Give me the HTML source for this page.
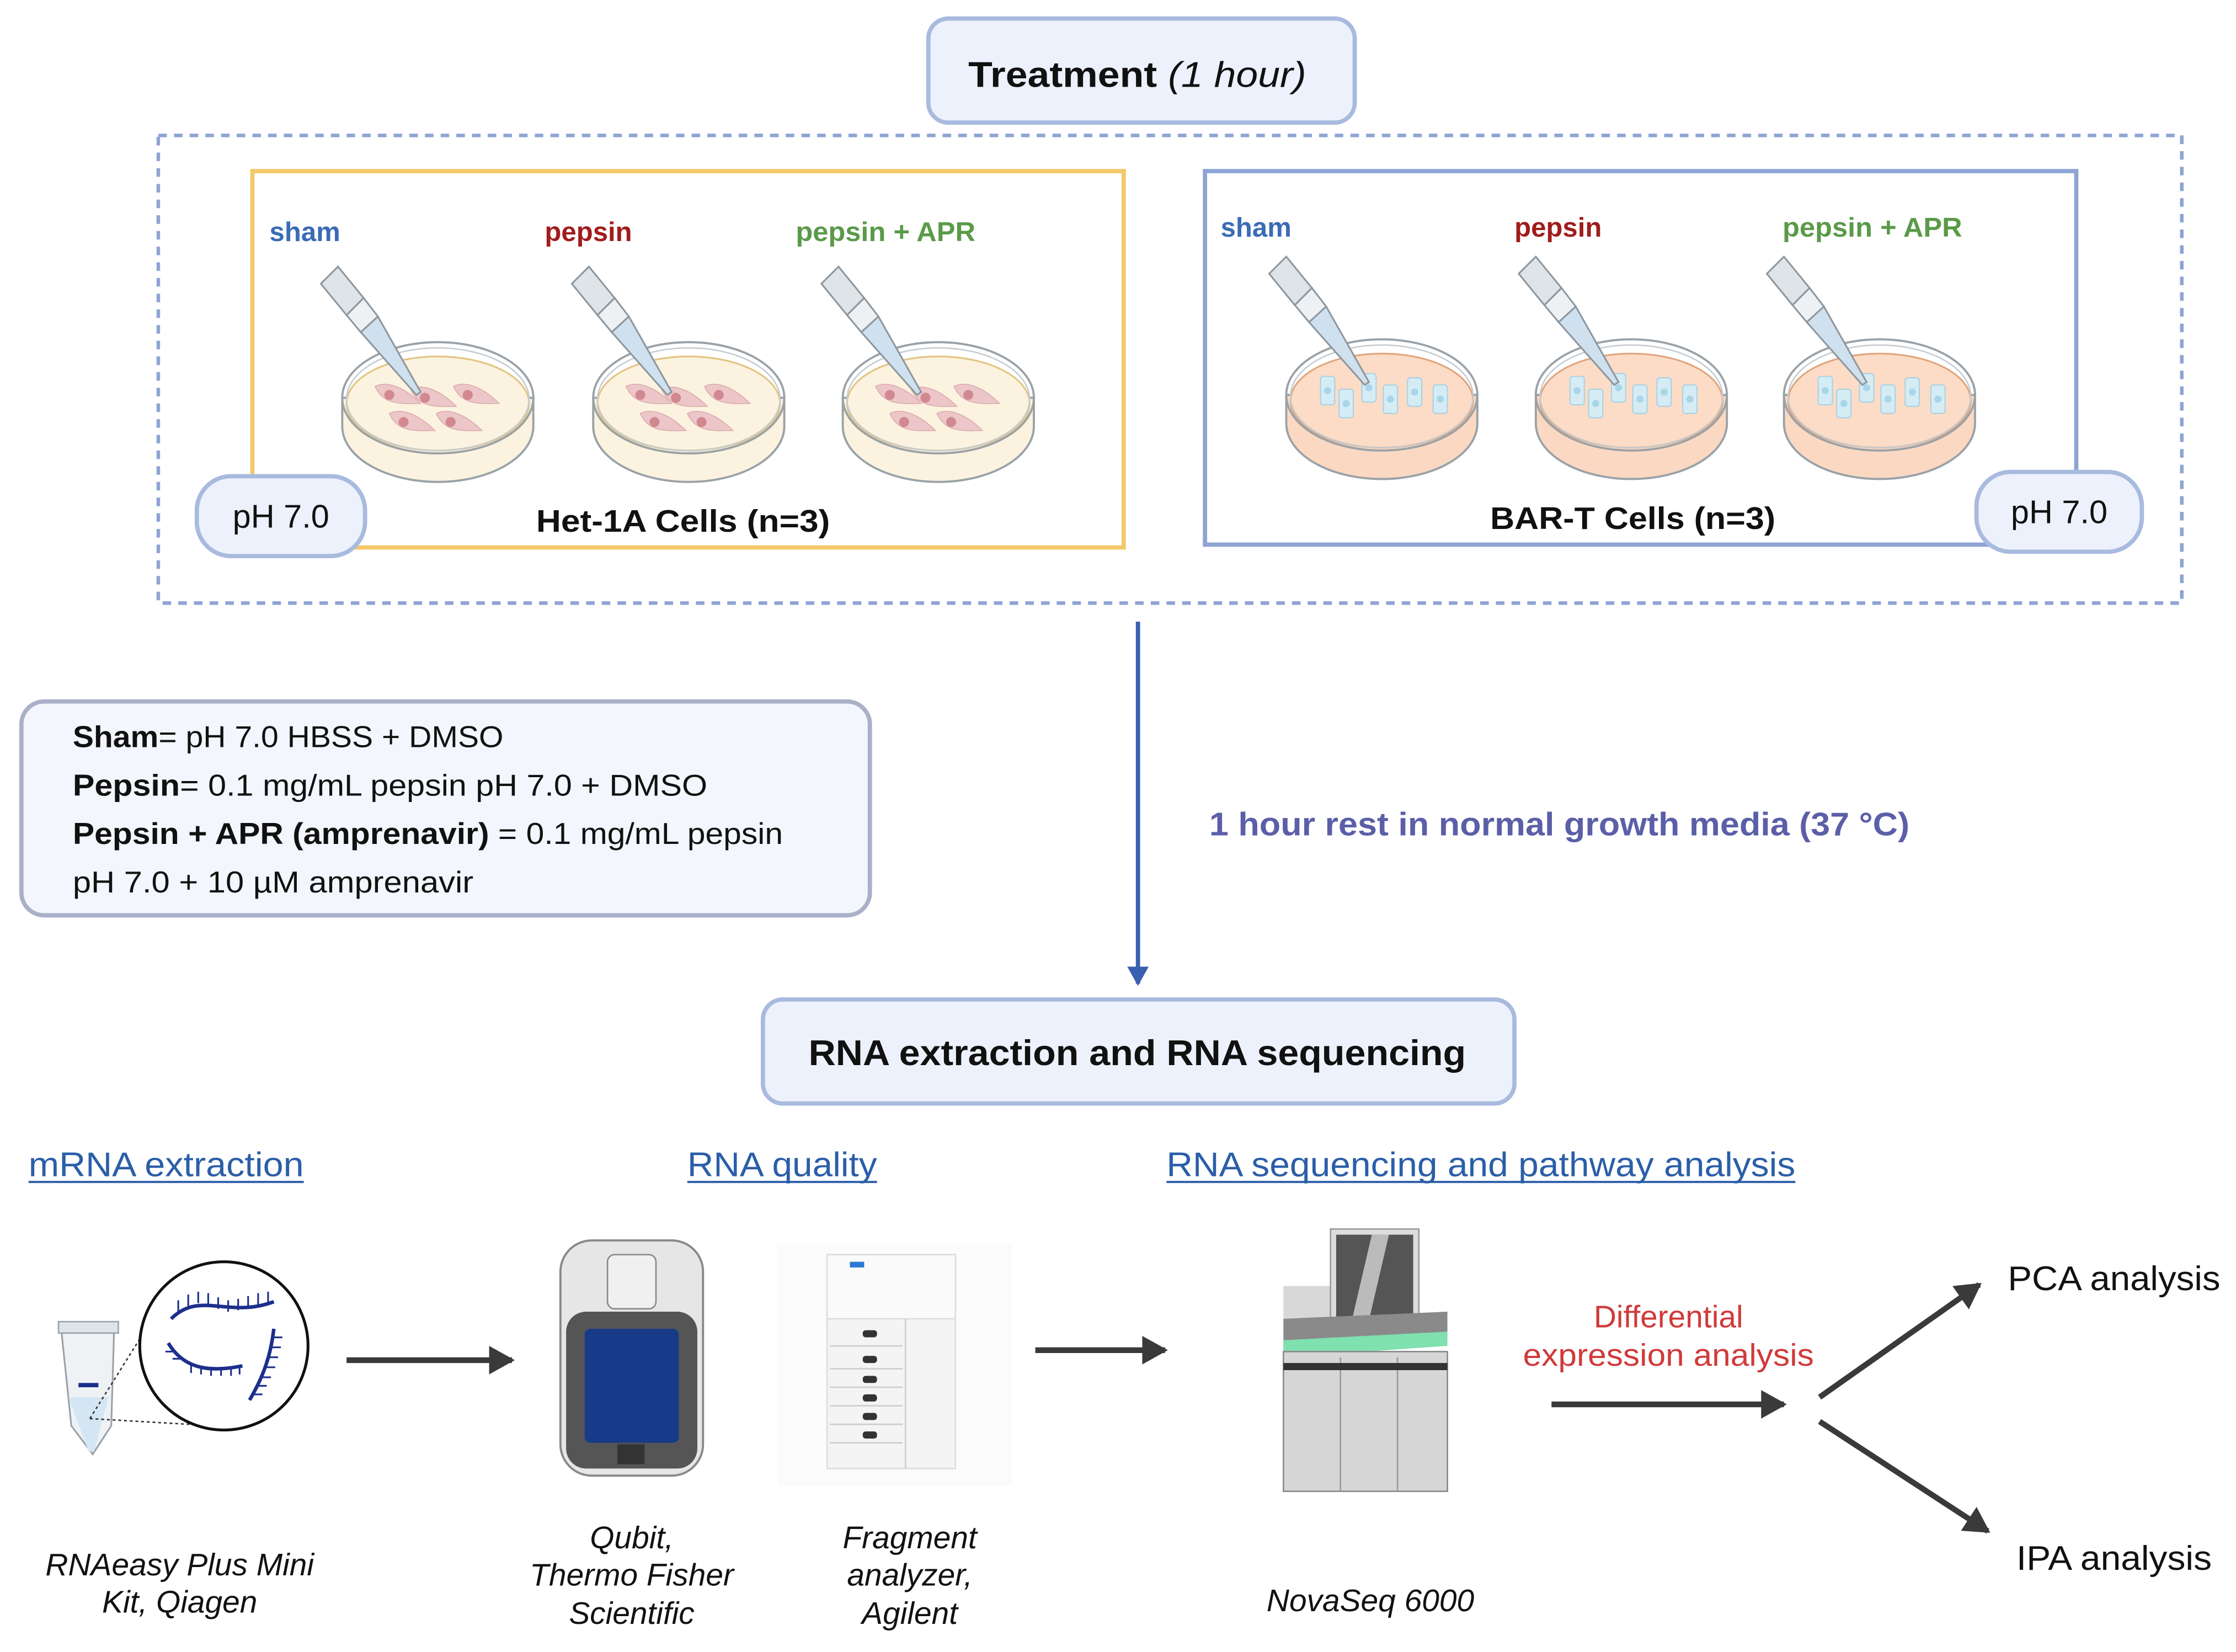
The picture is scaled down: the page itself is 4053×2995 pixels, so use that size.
<!DOCTYPE html>
<html><head><meta charset="utf-8"><style>
html,body{margin:0;padding:0;background:#fff}
svg{display:block}
text{font-family:"Liberation Sans",sans-serif}
</style></head><body>
<svg width="4053" height="2995" viewBox="0 0 1568 1158.7" xmlns="http://www.w3.org/2000/svg">
<defs>
<g id="pip">
  <polygon points="-70,-78 -58,-90 -40,-68 -52,-56" fill="#dfe4e8" stroke="#8e979e" stroke-width="1.2"/>
  <polygon points="-52,-56 -40,-68 -30,-55 -42,-44" fill="#eef1f3" stroke="#8e979e" stroke-width="1.2"/>
  <polygon points="-42,-44 -30,-55 0,-2 -3,0" fill="#cfe0ef" stroke="#8e979e" stroke-width="1.2"/>
</g>
<g id="dishY">
  <path d="M-67,0 L-67,20 A67,39 0 0 0 67,20 L67,0 Z" fill="#fbf3df" stroke="#9aa2a8" stroke-width="1.5"/>
  <ellipse cx="0" cy="4" rx="64" ry="33" fill="#fbf3df" stroke="#e3c482" stroke-width="1.2"/>
  <ellipse cx="0" cy="0" rx="67" ry="39" fill="none" stroke="#9aa2a8" stroke-width="1.5"/>
  <ellipse cx="0" cy="1" rx="64" ry="36" fill="none" stroke="#c5ccd2" stroke-width="1"/>
</g>
<g id="dishO">
  <path d="M-67,0 L-67,20 A67,39 0 0 0 67,20 L67,0 Z" fill="#fbd8c2" stroke="#9aa2a8" stroke-width="1.5"/>
  <ellipse cx="0" cy="4" rx="64" ry="33" fill="#fcdcc6" stroke="#e0a57d" stroke-width="1.2"/>
  <ellipse cx="0" cy="0" rx="67" ry="39" fill="none" stroke="#9aa2a8" stroke-width="1.5"/>
  <ellipse cx="0" cy="1" rx="64" ry="36" fill="none" stroke="#c5ccd2" stroke-width="1"/>
</g>
<g id="cellP">
  <path d="M-14,-6 C-6,-10 6,-6 18,6 C6,6 -8,8 -14,-6 Z" fill="#ecc6c8" stroke="#dba9ad" stroke-width="0.6"/>
  <circle cx="-4" cy="0" r="3.5" fill="#d28890"/>
</g>
<g id="cellB">
  <rect x="-5" y="-10" width="10" height="20" rx="2" fill="#d6ecf5" stroke="#a8d2e3" stroke-width="0.8"/>
  <circle cx="0" cy="0" r="2.5" fill="#a8d6e8"/>
</g>
<g id="hetDish">
  <use href="#dishY"/>
  <use href="#cellP" x="-30" y="-2"/><use href="#cellP" x="-5" y="0"/><use href="#cellP" x="25" y="-2"/>
  <use href="#cellP" x="-20" y="17"/><use href="#cellP" x="13" y="17"/>
  <use href="#pip" x="-12" y="-2"/>
</g>
<g id="barDish">
  <use href="#dishO"/>
  <use href="#cellB" x="-38" y="-3"/><use href="#cellB" x="-25" y="6"/><use href="#cellB" x="-9" y="-5"/>
  <use href="#cellB" x="6" y="3"/><use href="#cellB" x="23" y="-2"/><use href="#cellB" x="41" y="3"/>
  <use href="#pip" x="-9" y="-7"/>
</g>
<marker id="ah" markerWidth="6" markerHeight="6" refX="4" refY="2.5" orient="auto" markerUnits="strokeWidth"><path d="M0,0 L4.5,2.5 L0,5 Z" fill="#3a3a3a"/></marker>
<marker id="ahb" markerWidth="6" markerHeight="6" refX="4" refY="2.5" orient="auto" markerUnits="strokeWidth"><path d="M0,0 L4.5,2.5 L0,5 Z" fill="#3a5fb0"/></marker>
</defs>

<!-- Treatment -->
<rect x="651" y="13" width="299" height="73" rx="14" fill="#ecf1fb" stroke="#a9badf" stroke-width="3"/>
<text x="679" y="61" font-size="25" fill="#111" textLength="237" lengthAdjust="spacingAndGlyphs"><tspan font-weight="bold">Treatment</tspan> <tspan font-style="italic">(1 hour)</tspan></text>

<rect x="111" y="95" width="1419" height="328" fill="none" stroke="#8ea4d4" stroke-width="2.5" stroke-dasharray="6,5"/>
<rect x="177" y="120" width="611" height="264" fill="none" stroke="#f2c96a" stroke-width="3"/>
<rect x="845" y="120" width="611" height="262" fill="none" stroke="#8ea4d4" stroke-width="3"/>

<g font-size="19" font-weight="bold">
<text x="189" y="169" fill="#3a6bb5">sham</text>
<text x="382" y="169" fill="#a01c1c">pepsin</text>
<text x="558" y="169" fill="#5a9a48" textLength="126" lengthAdjust="spacingAndGlyphs">pepsin + APR</text>
<text x="856" y="166" fill="#3a6bb5">sham</text>
<text x="1062" y="166" fill="#a01c1c">pepsin</text>
<text x="1250" y="166" fill="#5a9a48" textLength="126" lengthAdjust="spacingAndGlyphs">pepsin + APR</text>
</g>

<use href="#hetDish" x="307" y="279"/>
<use href="#hetDish" x="483" y="279"/>
<use href="#hetDish" x="658" y="279"/>
<use href="#barDish" x="969" y="277"/>
<use href="#barDish" x="1144" y="277"/>
<use href="#barDish" x="1318" y="277"/>

<text x="376" y="373" font-size="22" font-weight="bold" fill="#111" textLength="206" lengthAdjust="spacingAndGlyphs">Het-1A Cells (n=3)</text>
<text x="1045" y="371" font-size="22" font-weight="bold" fill="#111" textLength="200" lengthAdjust="spacingAndGlyphs">BAR-T Cells (n=3)</text>

<rect x="138" y="334" width="118" height="56" rx="24" fill="#ecf1fb" stroke="#a9badf" stroke-width="3"/>
<text x="197" y="370" text-anchor="middle" font-size="23" fill="#111">pH 7.0</text>
<rect x="1386" y="331" width="116" height="56" rx="24" fill="#ecf1fb" stroke="#a9badf" stroke-width="3"/>
<text x="1444" y="367" text-anchor="middle" font-size="23" fill="#111">pH 7.0</text>

<!-- vertical arrow -->
<line x1="798" y1="436" x2="798" y2="690" stroke="#3a5fb0" stroke-width="3" marker-end="url(#ahb)"/>

<!-- legend -->
<rect x="15" y="492" width="595" height="150" rx="16" fill="#f3f6fc" stroke="#a9b0c8" stroke-width="3"/>
<g font-size="21" fill="#111" lengthAdjust="spacingAndGlyphs">
<text x="51" y="524" textLength="302" lengthAdjust="spacingAndGlyphs"><tspan font-weight="bold">Sham</tspan>= pH 7.0 HBSS + DMSO</text>
<text x="51" y="558" textLength="445" lengthAdjust="spacingAndGlyphs"><tspan font-weight="bold">Pepsin</tspan>= 0.1 mg/mL pepsin pH 7.0 + DMSO</text>
<text x="51" y="592" textLength="498" lengthAdjust="spacingAndGlyphs"><tspan font-weight="bold">Pepsin + APR (amprenavir)</tspan> = 0.1 mg/mL pepsin</text>
<text x="51" y="626" textLength="281" lengthAdjust="spacingAndGlyphs">pH 7.0 + 10 µM amprenavir</text>
</g>

<text x="848" y="586" font-size="23" font-weight="bold" fill="#5b5fa8" textLength="491" lengthAdjust="spacingAndGlyphs">1 hour rest in normal growth media (37 °C)</text>

<!-- RNA box -->
<rect x="535" y="701" width="527" height="73" rx="14" fill="#ecf1fb" stroke="#a9badf" stroke-width="3"/>
<text x="567" y="747" font-size="25" font-weight="bold" fill="#111" textLength="461" lengthAdjust="spacingAndGlyphs">RNA extraction and RNA sequencing</text>

<g font-size="24" fill="#2a5ea8">
<text x="20" y="825" textLength="193" lengthAdjust="spacingAndGlyphs">mRNA extraction</text>
<text x="482" y="825" textLength="133" lengthAdjust="spacingAndGlyphs">RNA quality</text>
<text x="818" y="825" textLength="441" lengthAdjust="spacingAndGlyphs">RNA sequencing and pathway analysis</text>
</g>
<line x1="20" y1="829" x2="213" y2="829" stroke="#2a5ea8" stroke-width="1.5"/>
<line x1="482" y1="829" x2="615" y2="829" stroke="#2a5ea8" stroke-width="1.5"/>
<line x1="818" y1="829" x2="1259" y2="829" stroke="#2a5ea8" stroke-width="1.5"/>

<!-- tube & circle -->
<path d="M43,933 L80,933 L78,1000 L65,1020 L50,1000 Z" fill="#eef2f5" stroke="#9aa2a8" stroke-width="1.2"/>
<path d="M48,980 L76,980 L66,1018 L62,1018 Z" fill="#d4e6f3"/>
<rect x="41" y="927" width="42" height="8" fill="#dfe4e8" stroke="#9aa2a8"/>
<rect x="55" y="970" width="14" height="3" fill="#1c2f8c"/>
<line x1="63" y1="995" x2="115" y2="912" stroke="#333" stroke-dasharray="2,2"/>
<line x1="63" y1="995" x2="150" y2="1000" stroke="#333" stroke-dasharray="2,2"/>
<ellipse cx="157" cy="944" rx="59" ry="59" fill="#fff" stroke="#111" stroke-width="2"/>
<g stroke="#1c2f8c" stroke-width="2.5" fill="none">
<path d="M120,925 C140,905 160,925 192,913"/>
<path d="M118,942 C130,962 150,962 170,958"/>
<path d="M192,932 C190,950 185,965 175,982"/>
</g>
<g stroke="#1c2f8c" stroke-width="1.2">
<path d="M125,920 v-8 M132,916 v-8 M139,914 v-8 M146,915 v-8 M153,918 v-8 M160,920 v-8 M167,919 v-8 M174,917 v-8 M181,915 v-8 M188,914 v-8"/>
<path d="M122,948 h-6 M127,953 h-6 M134,957 v6 M141,958 v6 M148,959 v6 M155,959 v6 M162,959 v6 M168,958 v6"/>
<path d="M192,938 h6 M191,945 h6 M189,952 h6 M187,959 h6 M184,966 h6 M181,972 h6 M178,978 h6"/>
</g>

<line x1="243" y1="954" x2="359" y2="954" stroke="#3a3a3a" stroke-width="4" marker-end="url(#ah)"/>

<!-- qubit -->
<rect x="393" y="870" width="100" height="165" rx="22" fill="#e6e6e6" stroke="#888" stroke-width="1.5"/>
<rect x="426" y="880" width="34" height="38" rx="5" fill="#f0f0f0" stroke="#888"/>
<rect x="397" y="920" width="92" height="110" rx="14" fill="#555"/>
<rect x="410" y="932" width="66" height="80" rx="4" fill="#173b88"/>
<rect x="433" y="1013" width="19" height="14" fill="#333"/>

<!-- fragment analyzer -->
<rect x="545" y="872" width="165" height="170" fill="#fbfbfb"/>
<rect x="580" y="880" width="90" height="150" fill="#f4f4f4" stroke="#ddd"/>
<rect x="580" y="880" width="90" height="45" fill="#fafafa" stroke="#ddd"/>
<rect x="596" y="885" width="10" height="4" fill="#2a7ad6"/>
<g fill="#333"><rect x="605" y="933" width="10" height="5" rx="2"/><rect x="605" y="951" width="10" height="5" rx="2"/><rect x="605" y="965" width="10" height="5" rx="2"/><rect x="605" y="978" width="10" height="5" rx="2"/><rect x="605" y="991" width="10" height="5" rx="2"/><rect x="605" y="1004" width="10" height="5" rx="2"/></g>
<g stroke="#ccc"><line x1="582" y1="944" x2="633" y2="944"/><line x1="582" y1="960" x2="633" y2="960"/><line x1="582" y1="973" x2="633" y2="973"/><line x1="582" y1="986" x2="633" y2="986"/><line x1="582" y1="999" x2="633" y2="999"/><line x1="582" y1="1012" x2="633" y2="1012"/><line x1="635" y1="925" x2="635" y2="1030"/></g>

<line x1="726" y1="947" x2="817" y2="947" stroke="#3a3a3a" stroke-width="4" marker-end="url(#ah)"/>

<!-- novaseq -->
<polygon points="900,902 940,902 940,935 900,935" fill="#d8d8d8"/>
<rect x="933" y="862" width="62" height="70" fill="#ddd" stroke="#999"/>
<rect x="937" y="866" width="54" height="60" fill="#555"/>
<polygon points="962,866 974,866 960,926 948,926" fill="#bbb"/>
<polygon points="900,925 1015,920 1015,938 900,945" fill="#8a8a8a"/>
<polygon points="900,940 1015,934 1015,944 900,952" fill="#7fe0b0"/>
<rect x="900" y="948" width="115" height="98" fill="#d6d6d6" stroke="#888"/>
<line x1="940" y1="952" x2="940" y2="1046" stroke="#999"/>
<line x1="980" y1="952" x2="980" y2="1046" stroke="#999"/>
<rect x="900" y="956" width="115" height="5" fill="#333"/>

<text x="1068" y="931" font-size="22" fill="#d03a3a" textLength="0" style="display:none"></text>
<text x="1170" y="931" text-anchor="middle" font-size="22" fill="#d03a3a">Differential</text>
<text x="1068" y="958" font-size="22" fill="#d03a3a" textLength="204" lengthAdjust="spacingAndGlyphs">expression analysis</text>
<line x1="1088" y1="985" x2="1251" y2="985" stroke="#3a3a3a" stroke-width="4" marker-end="url(#ah)"/>
<line x1="1276" y1="980" x2="1388" y2="901" stroke="#3a3a3a" stroke-width="4" marker-end="url(#ah)"/>
<line x1="1276" y1="997" x2="1394" y2="1074" stroke="#3a3a3a" stroke-width="4" marker-end="url(#ah)"/>
<text x="1408" y="905" font-size="24" fill="#111" textLength="149" lengthAdjust="spacingAndGlyphs">PCA analysis</text>
<text x="1414" y="1101" font-size="24" fill="#111" textLength="137" lengthAdjust="spacingAndGlyphs">IPA analysis</text>

<g font-size="22" font-style="italic" fill="#111" text-anchor="middle">
<text x="126" y="1105">RNAeasy Plus Mini</text>
<text x="126" y="1131">Kit, Qiagen</text>
<text x="443" y="1086">Qubit,</text>
<text x="443" y="1112">Thermo Fisher</text>
<text x="443" y="1139">Scientific</text>
<text x="638" y="1086">Fragment</text>
<text x="638" y="1112">analyzer,</text>
<text x="638" y="1139">Agilent</text>
<text x="961" y="1130">NovaSeq 6000</text>
</g>
</svg>
</body></html>
